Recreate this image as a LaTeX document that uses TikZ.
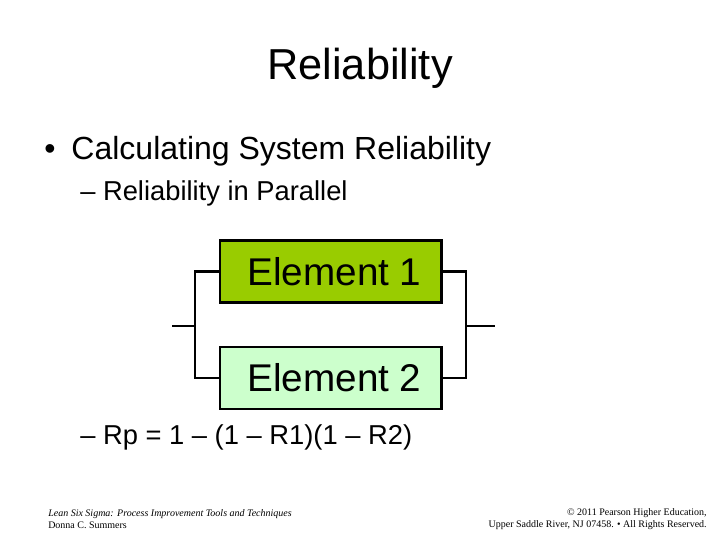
\documentclass[tikz,border=0pt]{standalone}
\usepackage{fontspec}
\setmainfont{Liberation Sans}
\newfontfamily\seriff{Liberation Serif}
\begin{document}
\begin{tikzpicture}[x=0.75pt,y=-0.75pt,
  elbox/.style={draw=black,line width=2pt,minimum width=166pt,minimum height=46.5pt,inner sep=0pt,font=\fontsize{29}{32}\selectfont},
  wire/.style={line width=2.2pt},
  txt/.style={anchor=west,inner sep=0pt}]
\useasboundingbox (0,0) rectangle (720,540);
\node (title) at (360,68) {\fontsize{32.5}{36}\selectfont Reliability};
\node[txt] (b1) at (44,151) {\fontsize{24}{28}\selectfont •\hspace{0.5em}Calculating System Reliability};
\node[txt] (b2) at (80,193) {\fontsize{20.5}{24}\selectfont – Reliability in Parallel};
\node[txt] (b3) at (80,437) {\fontsize{20.5}{24}\selectfont – Rp = 1 – (1 – R1)(1 – R2)};
\node[elbox,fill={rgb,255:red,153;green,204;blue,0}] (e1) at (330.5,271.5) {\hspace{6pt}Element 1};
\node[elbox,fill={rgb,255:red,204;green,255;blue,204}] (e2) at (330.5,378) {\hspace{6pt}Element 2};
\coordinate (lin) at (172,326);
\coordinate (rout) at (495,326);
\draw[wire] (e1.west) -- (195,271.5) -- (195,378) -- (e2.west);
\draw[wire] (lin) -- (195,326);
\draw[wire] (e1.east) -- (466,271.5) -- (466,378) -- (e2.east);
\draw[wire] (466,326) -- (rout);
\node[txt,align=left,font=\seriff\fontsize{7.5}{10}\selectfont] (f1) at (48,519) {\itshape Lean Six Sigma: Process Improvement Tools and Techniques\\[-1pt]Donna C. Summers};
\node[anchor=east,inner sep=0pt,align=right,font=\seriff\fontsize{7.5}{10}\selectfont] (f2) at (707,519) {© 2011 Pearson Higher Education,\\[-1pt] Upper Saddle River, NJ 07458. • All Rights Reserved.};
\end{tikzpicture}
\end{document}
